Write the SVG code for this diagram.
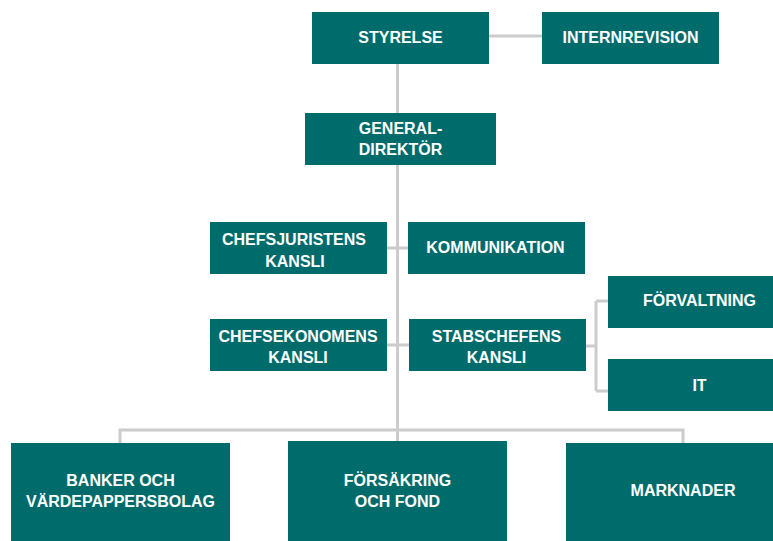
<svg xmlns="http://www.w3.org/2000/svg" width="773" height="541" viewBox="0 0 773 541">
<style>
.box{fill:#006b6b}
.t{font-family:"Liberation Sans",Arial,sans-serif;font-weight:bold;font-size:16px;fill:#ffffff;text-anchor:middle}
.c{stroke:#cccccc;stroke-width:3;fill:none}
</style>
<rect width="773" height="541" fill="#ffffff"/>
<g id="connectors" class="c">
<path d="M397.5 64V113M397.5 165V443"/>
<path d="M489 36H542"/>
<path d="M387 248H408M387 345H409"/>
<path d="M586 346H596M596 301V391M596 301H608M596 391H608"/>
<path d="M120 443V430H683V443M397.5 430V441"/>
</g>
<g id="styrelse"><rect class="box" x="312" y="12" width="177" height="52"/><text class="t" x="400.5" y="43">STYRELSE</text></g>
<g id="internrevision"><rect class="box" x="542" y="12" width="177" height="52"/><text class="t" x="630.5" y="43">INTERNREVISION</text></g>
<g id="generaldirektor"><rect class="box" x="305" y="113" width="191" height="52"/><text class="t" x="400.5" y="134">GENERAL-</text><text class="t" x="400.5" y="155">DIREKTÖR</text></g>
<g id="chefsjuristens"><rect class="box" x="210" y="222" width="177" height="52"/><text class="t" x="294" y="245">CHEFSJURISTENS</text><text class="t" x="295" y="267">KANSLI</text></g>
<g id="kommunikation"><rect class="box" x="408" y="222" width="177" height="52"/><text class="t" x="495.5" y="253">KOMMUNIKATION</text></g>
<g id="chefsekonomens"><rect class="box" x="210" y="319" width="177" height="52"/><text class="t" x="298" y="342">CHEFSEKONOMENS</text><text class="t" x="298" y="363">KANSLI</text></g>
<g id="stabschefens"><rect class="box" x="409" y="319" width="177" height="52"/><text class="t" x="496.5" y="342">STABSCHEFENS</text><text class="t" x="496.5" y="363">KANSLI</text></g>
<g id="forvaltning"><rect class="box" x="608" y="276" width="182" height="52"/><text class="t" x="699.5" y="306">FÖRVALTNING</text></g>
<g id="it"><rect class="box" x="608" y="359" width="182" height="52"/><text class="t" x="699.5" y="391">IT</text></g>
<g id="banker"><rect class="box" x="11" y="443" width="219" height="100"/><text class="t" x="120.5" y="486">BANKER OCH</text><text class="t" x="120.5" y="507">VÄRDEPAPPERSBOLAG</text></g>
<g id="forsakring"><rect class="box" x="288" y="441" width="219" height="102"/><text class="t" x="397.5" y="486">FÖRSÄKRING</text><text class="t" x="397.5" y="507">OCH FOND</text></g>
<g id="marknader"><rect class="box" x="566" y="443" width="234" height="100"/><text class="t" x="683" y="496">MARKNADER</text></g>
</svg>
